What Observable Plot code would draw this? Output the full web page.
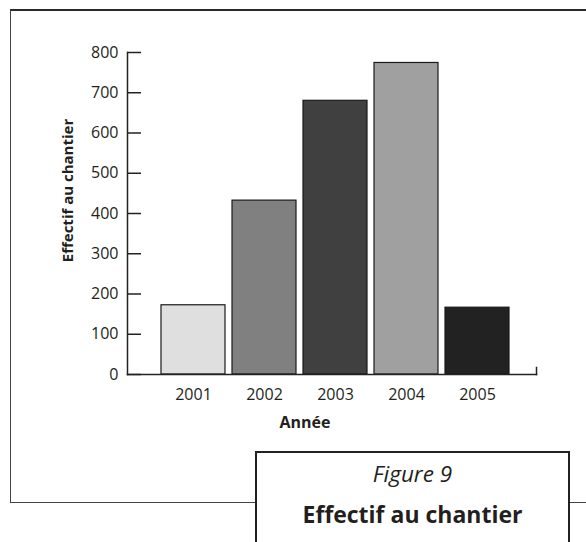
<!DOCTYPE html>
<html>
<head>
<meta charset="utf-8">
<script src="https://cdn.jsdelivr.net/npm/d3@7"></script>
<script src="https://cdn.jsdelivr.net/npm/@observablehq/plot@0.6"></script>
<style>
  body { margin: 0; background: #fff; }
  #wrap { position: relative; width: 586px; height: 542px; overflow: hidden; background: #fff; font-family: "Open Sans", sans-serif; color: #231f20; }
  #outer { position: absolute; left: 10px; top: 9px; width: 620px; height: 494px; box-sizing: border-box;
           border-top: 2px solid #2a2a2a; border-left: 1.5px solid #444; border-bottom: 1.5px solid #444; }
  #chart { position: absolute; left: 0; top: 0; }
  #box { position: absolute; left: 255px; top: 451px; width: 315px; height: 120px; box-sizing: border-box;
         border: 2px solid #222; background: #fff; }
  .cap { position: absolute; left: 0; width: 100%; text-align: center; line-height: 1; white-space: nowrap; }
  #fig { font-style: italic; font-size: 22.5px; top: 10px; }
  #ttl { font-weight: bold; font-size: 23px; top: 50px; }
</style>
</head>
<body>
<div id="wrap">
  <div id="outer"></div>
  <div id="chart"></div>
  <div id="box">
    <div class="cap" id="fig">Figure 9</div>
    <div class="cap" id="ttl">Effectif au chantier</div>
  </div>
</div>
<script>
const years = ["2001", "2002", "2003", "2004", "2005"];
const effectifs = [172, 432, 680, 774, 166];
const fills = ["#dfdfdf", "#808080", "#404040", "#a0a0a0", "#222222"];
const yTicks = [0, 100, 200, 300, 400, 500, 600, 700, 800];
const yLabel = "Effectif au chantier";
const xLabel = "Année";

const data = years.map((y, i) => ({year: y, value: effectifs[i], fill: fills[i]}));

const chart = Plot.plot({
  width: 586,
  height: 542,
  marginLeft: 127,
  marginRight: 50,
  marginTop: 52,
  marginBottom: 168,
  style: {fontFamily: "'Open Sans', sans-serif", fontSize: "16px", color: "#231f20", background: "transparent"},
  x: {domain: years, range: [159.5, 511], paddingInner: 0.093, paddingOuter: 0},
  y: {domain: [0, 800]},
  marks: [
    Plot.barY(data, {x: "year", y: "value", fill: "fill", stroke: "#1a1a1a", strokeWidth: 1.2}),
    Plot.gridY(yTicks, {stroke: "#222", strokeOpacity: 1, strokeWidth: 1.5, insetRight: 395}),
    Plot.axisY(yTicks, {tickSize: 0, tickPadding: 9, label: null, fill: "#231f20"}),
    Plot.axisX({tickSize: 0, tickPadding: 14, label: null, fill: "#231f20"}),
    Plot.frame({anchor: "left", stroke: "#222", strokeWidth: 1.5}),
    Plot.frame({anchor: "bottom", stroke: "#222", strokeWidth: 1.5}),
    Plot.frame({anchor: "right", stroke: "#222", strokeWidth: 1.5, insetTop: 315}),
    Plot.text([xLabel], {frameAnchor: "bottom", textAnchor: "middle", lineAnchor: "middle", dx: -27, dy: 48, fontWeight: "bold", fontSize: 16, fill: "#231f20"}),
    Plot.text([yLabel], {frameAnchor: "left", rotate: -90, textAnchor: "middle", lineAnchor: "middle", dx: -59, dy: -23, fontWeight: "bold", fontSize: 15, fill: "#231f20"})
  ]
});
document.getElementById("chart").appendChild(chart);
</script>
</body>
</html>
